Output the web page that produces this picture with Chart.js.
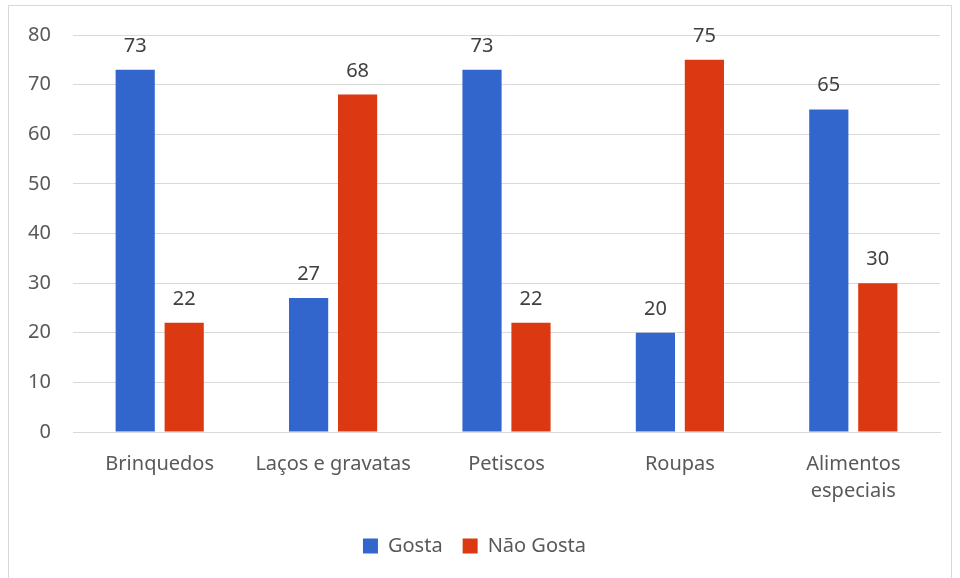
<!DOCTYPE html>
<html>
<head>
<meta charset="utf-8">
<script src="https://cdn.jsdelivr.net/npm/chart.js@4.4.1/dist/chart.umd.min.js"></script>
<style>
  html, body { margin: 0; padding: 0; background: #fff; }
  #frame {
    position: absolute; left: 8px; top: 5px;
    width: 944px; height: 580px;
    border: 1px solid #d9d9d9; box-sizing: border-box;
  }
  #chart { position: absolute; left: 0; top: 0; }
</style>
</head>
<body>
<div id="frame"><canvas id="chart" width="942" height="578"></canvas></div>
<script>
// ── data ──────────────────────────────────────────────────────────────────
const categories = ["Brinquedos", "Laços e gravatas", "Petiscos", "Roupas", ["Alimentos", "especiais"]];
const gosta = [73, 27, 73, 20, 65];
const naoGosta = [22, 68, 22, 75, 30];
const yTicks = [0, 10, 20, 30, 40, 50, 60, 70, 80];

const FONT = "'Noto Sans', sans-serif";

// value labels above each bar
const barLabels = {
  id: "barLabels",
  afterDatasetsDraw(chart) {
    const { ctx } = chart;
    ctx.save();
    ctx.font = "20px " + FONT;
    ctx.fillStyle = "#404040";
    ctx.textAlign = "center";
    ctx.textBaseline = "alphabetic";
    chart.data.datasets.forEach((ds, i) => {
      chart.getDatasetMeta(i).data.forEach((bar, j) => {
        ctx.fillText(String(ds.data[j]), bar.x, bar.y - 18);
      });
    });
    ctx.restore();
  },
};

new Chart(document.getElementById("chart"), {
  type: "bar",
  data: {
    labels: categories,
    datasets: [
      { label: "Gosta", data: gosta, backgroundColor: "#3366cc" },
      { label: "Não Gosta", data: naoGosta, backgroundColor: "#dc3912" },
    ],
  },
  options: {
    responsive: false,
    animation: false,
    layout: { padding: { top: 29, right: 11, left: 0, bottom: 18 } },
    datasets: { bar: { barPercentage: 0.8, categoryPercentage: 0.565 } },
    plugins: {
      legend: {
        position: "bottom",
        labels: {
          font: { family: FONT, size: 20 },
          color: "#595959",
          boxWidth: 15,
          boxHeight: 15,
          padding: 20,
        },
      },
      tooltip: { enabled: false },
    },
    scales: {
      x: {
        grid: { display: false },
        border: { color: "#d9d9d9" },
        afterFit: (scale) => { scale.height = 84; },
        ticks: {
          font: { family: FONT, size: 20, lineHeight: 1.35 },
          color: "#595959",
          padding: 11,
          maxRotation: 0,
        },
      },
      y: {
        min: 0,
        max: 80,
        afterBuildTicks: (scale) => {
          scale.ticks = yTicks.map((v) => ({ value: v }));
        },
        afterFit: (scale) => {
          scale.width = 64;
          scale.paddingTop = 0;
        },
        grid: { color: "#d9d9d9", drawTicks: false },
        border: { display: false },
        ticks: {
          font: { family: FONT, size: 20 },
          color: "#595959",
          padding: 22,
        },
      },
    },
  },
  plugins: [barLabels],
});
</script>
</body>
</html>
